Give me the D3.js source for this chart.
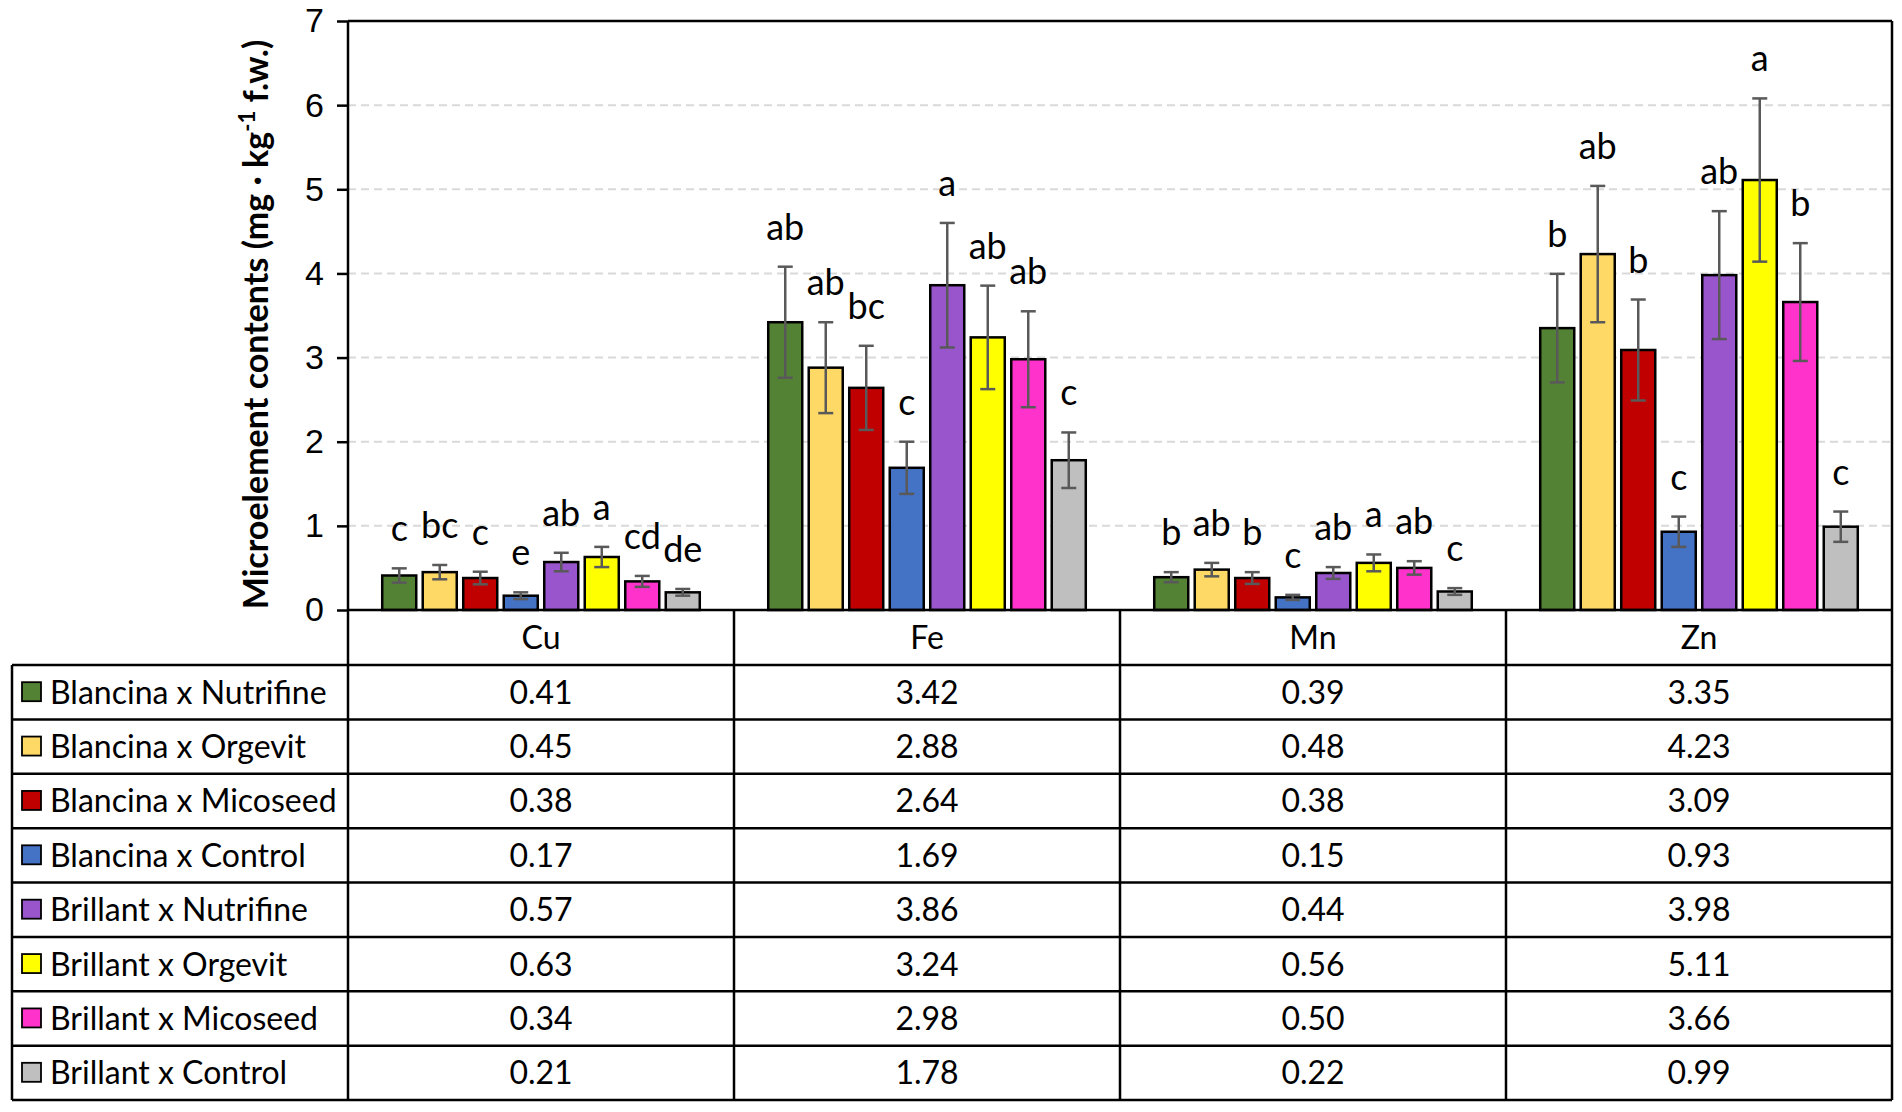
<!DOCTYPE html>
<html lang="en">
<head>
<meta charset="utf-8">
<title>Microelement contents</title>
<script src="https://cdn.jsdelivr.net/npm/d3@7"></script>
<style>
  body { margin: 0; background: #fff; }
  svg { display: block; font-family: Lato, "Open Sans", sans-serif; }
  .axis text { font-size: 34px; fill: #000; }
  .axis line { stroke: #000; stroke-width: 2.5; }
  .axis path { display: none; }
</style>
</head>
<body>
<script>
// ---- data ----
var elements = ["Cu", "Fe", "Mn", "Zn"];
var treatments = [
  "Blancina x Nutrifine", "Blancina x Orgevit", "Blancina x Micoseed", "Blancina x Control",
  "Brillant x Nutrifine", "Brillant x Orgevit", "Brillant x Micoseed", "Brillant x Control"
];
var colors = ["#548235", "#FFD966", "#C00000", "#4472C4", "#9955CC", "#FFFF00", "#FF33CC", "#BFBFBF"];

// values per treatment, in element order Cu, Fe, Mn, Zn
var values = [
  [0.41, 3.42, 0.39, 3.35],
  [0.45, 2.88, 0.48, 4.23],
  [0.38, 2.64, 0.38, 3.09],
  [0.17, 1.69, 0.15, 0.93],
  [0.57, 3.86, 0.44, 3.98],
  [0.63, 3.24, 0.56, 5.11],
  [0.34, 2.98, 0.50, 3.66],
  [0.21, 1.78, 0.22, 0.99]
];
// error bar half-lengths
var errors = [
  [0.085, 0.66, 0.06, 0.645],
  [0.085, 0.54, 0.08, 0.81],
  [0.075, 0.50, 0.07, 0.60],
  [0.04, 0.31, 0.03, 0.18],
  [0.11, 0.74, 0.07, 0.76],
  [0.12, 0.615, 0.10, 0.97],
  [0.065, 0.57, 0.08, 0.70],
  [0.04, 0.33, 0.04, 0.18]
];
// significance letters
var letters = [
  ["c", "ab", "b", "b"],
  ["bc", "ab", "ab", "ab"],
  ["c", "bc", "b", "b"],
  ["e", "c", "c", "c"],
  ["ab", "a", "ab", "ab"],
  ["a", "ab", "a", "a"],
  ["cd", "ab", "ab", "b"],
  ["de", "c", "c", "c"]
];
var yTicks = [0, 1, 2, 3, 4, 5, 6, 7];

// ---- layout ----
var w = 1902, h = 1112;
var plotLeft = 348, plotRight = 1892, plotTop = 21, zeroY = 610;
var tableLeft = 12, headBottom = 665, tableBottom = 1100;
var rowH = (tableBottom - headBottom) / treatments.length;

var svg = d3.select("body").append("svg")
  .attr("width", w)
  .attr("height", h);

var xScale = d3.scaleBand()
  .domain(elements)
  .range([plotLeft, plotRight])
  .padding(0);

var xInner = d3.scaleBand()
  .domain(d3.range(treatments.length))
  .range([0, xScale.bandwidth()])
  .paddingInner(0.16)
  .paddingOuter(0.845);

var yScale = d3.scaleLinear()
  .domain([0, 7])
  .range([zeroY, plotTop]);

// gridlines
svg.append("g")
  .selectAll("line")
  .data(yTicks.filter(function(d) { return d > 0 && d < 7; }))
  .enter()
  .append("line")
  .attr("x1", plotLeft).attr("x2", plotRight)
  .attr("y1", function(d) { return yScale(d); })
  .attr("y2", function(d) { return yScale(d); })
  .attr("stroke", "#D9D9D9")
  .attr("stroke-width", 2)
  .attr("stroke-dasharray", "8,5");

// y axis
var yAxis = d3.axisLeft(yScale)
  .tickValues(yTicks)
  .tickSize(11)
  .tickSizeOuter(0)
  .tickPadding(13)
  .tickFormat(d3.format("d"));

svg.append("g")
  .attr("class", "axis")
  .attr("transform", "translate(" + plotLeft + ",0)")
  .call(yAxis);

// y axis title
var title = svg.append("text")
  .attr("transform", "translate(268," + ((plotTop + zeroY) / 2 + 9) + ") rotate(-90)")
  .attr("text-anchor", "middle")
  .attr("font-size", 34)
  .attr("font-weight", "bold")
  .attr("fill", "#000");
title.append("tspan").text("Microelement contents (mg \u00B7 kg");
title.append("tspan").attr("baseline-shift", "super").attr("font-size", 22).text("-1");
title.append("tspan").text(" f.w.)");

// bars
var groups = svg.append("g")
  .selectAll("g")
  .data(treatments)
  .enter()
  .append("g");

groups.each(function(t, i) {
  var g = d3.select(this);
  var cells = elements.map(function(el, j) {
    return { el: el, v: values[i][j], e: errors[i][j], lab: letters[i][j] };
  });
  var bx = function(d) { return xScale(d.el) + xInner(i); };

  g.selectAll("rect")
    .data(cells)
    .enter()
    .append("rect")
    .attr("x", bx)
    .attr("y", function(d) { return yScale(d.v); })
    .attr("width", xInner.bandwidth())
    .attr("height", function(d) { return zeroY - yScale(d.v); })
    .attr("fill", colors[i])
    .attr("stroke", "#000")
    .attr("stroke-width", 2.5);

  var cx = function(d) { return bx(d) + xInner.bandwidth() / 2; };

  g.selectAll("line.err")
    .data(cells)
    .enter()
    .append("line")
    .attr("class", "err")
    .attr("x1", cx).attr("x2", cx)
    .attr("y1", function(d) { return yScale(d.v + d.e); })
    .attr("y2", function(d) { return yScale(d.v - d.e); })
    .attr("stroke", "#595959")
    .attr("stroke-width", 2.5);

  [1, -1].forEach(function(s) {
    g.selectAll("line.cap" + (s > 0 ? "hi" : "lo"))
      .data(cells)
      .enter()
      .append("line")
      .attr("class", "cap" + (s > 0 ? "hi" : "lo"))
      .attr("x1", function(d) { return cx(d) - 7.5; })
      .attr("x2", function(d) { return cx(d) + 7.5; })
      .attr("y1", function(d) { return yScale(d.v + s * d.e); })
      .attr("y2", function(d) { return yScale(d.v + s * d.e); })
      .attr("stroke", "#595959")
      .attr("stroke-width", 2.5);
  });

  g.selectAll("text")
    .data(cells)
    .enter()
    .append("text")
    .attr("x", cx)
    .attr("y", function(d) { return yScale(d.v + d.e) - 27; })
    .attr("text-anchor", "middle")
    .attr("font-size", 36)
    .attr("fill", "#000")
    .text(function(d) { return d.lab; });
});

// frame: top and right borders, y axis line
var frame = svg.append("g").attr("stroke", "#000").attr("stroke-width", 2.5);
frame.append("line").attr("x1", plotLeft).attr("x2", plotRight).attr("y1", plotTop).attr("y2", plotTop);
frame.append("line").attr("x1", plotRight).attr("x2", plotRight).attr("y1", plotTop).attr("y2", tableBottom);
frame.append("line").attr("x1", plotLeft).attr("x2", plotLeft).attr("y1", plotTop).attr("y2", tableBottom);
frame.append("line").attr("x1", plotLeft).attr("x2", plotRight).attr("y1", zeroY).attr("y2", zeroY);

// data table
var table = svg.append("g");
var rowLines = d3.range(treatments.length + 1);
table.selectAll("line.row")
  .data(rowLines)
  .enter()
  .append("line")
  .attr("class", "row")
  .attr("x1", tableLeft).attr("x2", plotRight)
  .attr("y1", function(d) { return headBottom + d * rowH; })
  .attr("y2", function(d) { return headBottom + d * rowH; })
  .attr("stroke", "#000")
  .attr("stroke-width", 2.5);

table.append("line")
  .attr("x1", tableLeft).attr("x2", tableLeft)
  .attr("y1", headBottom).attr("y2", tableBottom)
  .attr("stroke", "#000").attr("stroke-width", 2.5);

table.selectAll("line.col")
  .data(elements.slice(1))
  .enter()
  .append("line")
  .attr("class", "col")
  .attr("x1", function(d) { return xScale(d); })
  .attr("x2", function(d) { return xScale(d); })
  .attr("y1", zeroY).attr("y2", tableBottom)
  .attr("stroke", "#000").attr("stroke-width", 2.5);

// header
table.selectAll("text.head")
  .data(elements)
  .enter()
  .append("text")
  .attr("class", "head")
  .attr("x", function(d) { return xScale(d) + xScale.bandwidth() / 2; })
  .attr("y", (zeroY + headBottom) / 2)
  .attr("dy", "0.36em")
  .attr("text-anchor", "middle")
  .attr("font-size", 32)
  .text(function(d) { return d; });

// rows
treatments.forEach(function(t, i) {
  var cy = headBottom + rowH * (i + 0.5);
  table.append("rect")
    .attr("x", 22).attr("y", cy - 10)
    .attr("width", 19).attr("height", 19)
    .attr("fill", colors[i])
    .attr("stroke", "#000")
    .attr("stroke-width", 1.8);
  table.append("text")
    .attr("x", 50).attr("y", cy)
    .attr("dy", "0.36em")
    .attr("font-size", 32)
    .text(t);
  table.selectAll("text.v" + i)
    .data(elements)
    .enter()
    .append("text")
    .attr("class", "v" + i)
    .attr("x", function(d) { return xScale(d) + xScale.bandwidth() / 2; })
    .attr("y", cy)
    .attr("dy", "0.36em")
    .attr("text-anchor", "middle")
    .attr("font-size", 32)
    .text(function(d, j) { return values[i][j].toFixed(2); });
});
</script>
</body>
</html>
